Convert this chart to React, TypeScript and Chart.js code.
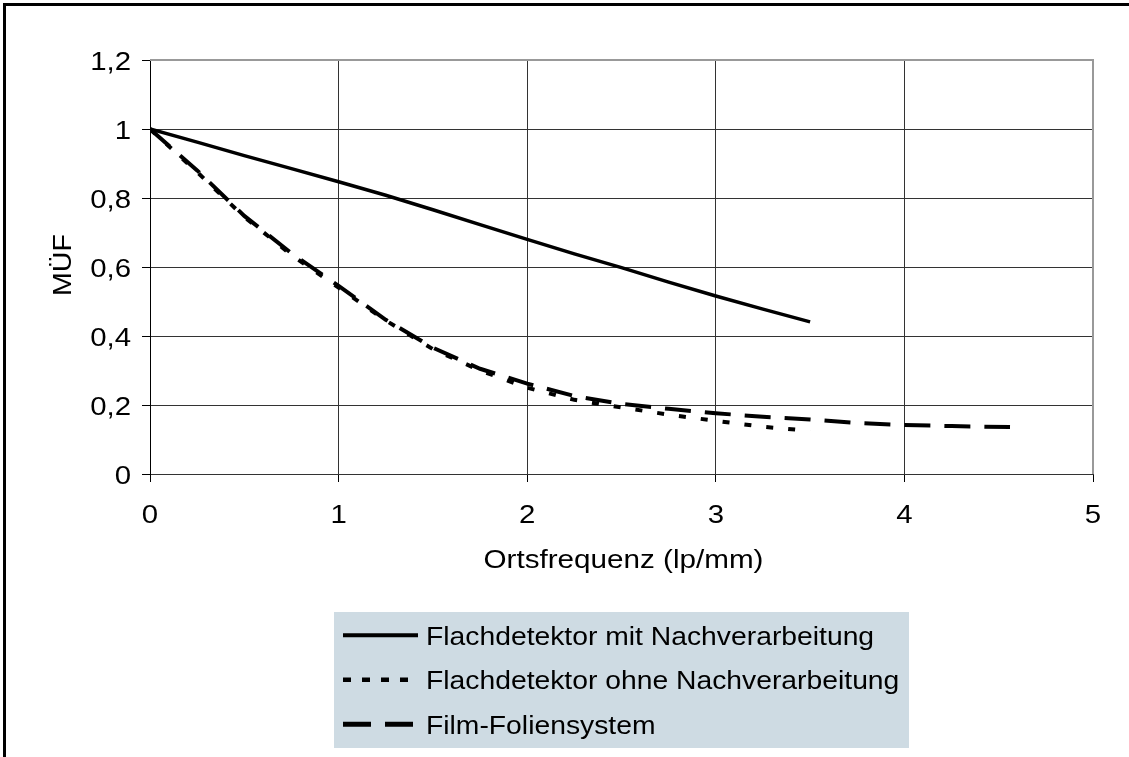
import React, { useEffect, useRef } from "react";
import { Chart, registerables } from "chart.js";

Chart.register(...registerables);

const freqMit = [0, 0.25, 0.5, 0.75, 1, 1.25, 1.5, 1.75, 2, 2.25, 2.5, 2.75, 3, 3.25, 3.5];
const mtfMit = [1, 0.962, 0.923, 0.885, 0.847, 0.808, 0.766, 0.723, 0.68, 0.638, 0.598, 0.556, 0.516, 0.478, 0.441];

const freqOhne = [0, 0.25, 0.5, 0.75, 1, 1.25, 1.5, 1.75, 2, 2.25, 2.5, 2.75, 3, 3.25, 3.5];
const mtfOhne = [1, 0.875, 0.745, 0.635, 0.54, 0.445, 0.362, 0.3, 0.25, 0.215, 0.193, 0.172, 0.154, 0.137, 0.125];

const freqFilm = [0, 0.25, 0.5, 0.75, 1, 1.25, 1.5, 1.75, 2, 2.25, 2.5, 2.75, 3, 3.25, 3.5, 3.75, 4, 4.25, 4.56];
const mtfFilm = [1, 0.88, 0.748, 0.64, 0.545, 0.447, 0.366, 0.305, 0.262, 0.226, 0.203, 0.189, 0.176, 0.166, 0.158, 0.148, 0.142, 0.139, 0.136];

const seriesLabels = [
  "Flachdetektor mit Nachverarbeitung",
  "Flachdetektor ohne Nachverarbeitung",
  "Film-Foliensystem",
];

const xTitle = "Ortsfrequenz (lp/mm)";
const yTitle = "MÜF";

const FONT = '26px "Liberation Sans", Arial, sans-serif';

const fmt = (v: number) => {
  const r = Math.round(v * 10) / 10;
  return String(r).replace(".", ",");
};

// draws text stretched horizontally by sx, anchored by align
function drawText(
  ctx: CanvasRenderingContext2D,
  text: string,
  x: number,
  y: number,
  align: "left" | "right" | "center",
  sx: number
) {
  ctx.save();
  ctx.translate(x, y);
  ctx.scale(sx, 1);
  ctx.textAlign = align;
  ctx.fillText(text, 0, 0);
  ctx.restore();
}

const customPlugin = {
  id: "customDraw",
  afterDraw(chart: any) {
    const ctx = chart.ctx as CanvasRenderingContext2D;
    const area = chart.chartArea;
    const xs = chart.scales.x;
    const ys = chart.scales.y;
    ctx.save();

    // plot area border (top/right) gray
    ctx.strokeStyle = "#999999";
    ctx.lineWidth = 2;
    ctx.beginPath();
    ctx.moveTo(area.left, area.top);
    ctx.lineTo(area.right, area.top);
    ctx.lineTo(area.right, area.bottom);
    ctx.stroke();

    // tick labels
    ctx.fillStyle = "#000";
    ctx.font = FONT;
    ctx.textBaseline = "alphabetic";
    ys.ticks.forEach((t: any) => {
      const py = ys.getPixelForValue(t.value);
      drawText(ctx, fmt(t.value), 131, py + 9.5, "right", 1.13);
    });
    xs.ticks.forEach((t: any) => {
      const px = xs.getPixelForValue(t.value);
      drawText(ctx, fmt(t.value), px, 523, "center", 1.13);
    });

    // axis titles
    drawText(ctx, xTitle, (area.left + area.right) / 2 + 2, 568, "center", 1.14);
    ctx.save();
    ctx.translate(71, 265);
    ctx.rotate(-Math.PI / 2);
    drawText(ctx, yTitle, 0, 0, "center", 1.1);
    ctx.restore();

    // legend
    const lx = 334, ly = 612, lw = 575, lh = 136;
    ctx.fillStyle = "#CEDBE3";
    ctx.fillRect(lx, ly, lw, lh);
    const rows = [635.3, 679.8, 724.3];
    chart.data.datasets.forEach((ds: any, i: number) => {
      const cy = rows[i];
      ctx.save();
      ctx.beginPath();
      ctx.rect(342, cy - 10, 77, 20);
      ctx.clip();
      ctx.strokeStyle = "#000";
      ctx.lineWidth = ds.legendWidth;
      ctx.lineCap = "butt";
      ctx.setLineDash(ds.legendDash);
      ctx.beginPath();
      ctx.moveTo(343, cy);
      ctx.lineTo(418, cy);
      ctx.stroke();
      ctx.restore();
      ctx.fillStyle = "#000";
      ctx.font = FONT;
      drawText(ctx, ds.label, 426, cy + 9.5, "left", 1.088);
    });

    // outer border (cropped on right and bottom)
    ctx.strokeStyle = "#000";
    ctx.lineWidth = 3;
    ctx.setLineDash([]);
    ctx.beginPath();
    ctx.moveTo(4.5, 800);
    ctx.lineTo(4.5, 4.5);
    ctx.lineTo(1200, 4.5);
    ctx.stroke();

    ctx.restore();
  },
};

export default function App() {
  const ref = useRef<HTMLCanvasElement | null>(null);
  useEffect(() => {
    if (!ref.current) return;
    const toXY = (xs: number[], ys: number[]) => xs.map((x, i) => ({ x, y: ys[i] }));
    const chart = new Chart(ref.current, {
      type: "line",
      data: {
        datasets: [
          {
            label: seriesLabels[0],
            data: toXY(freqMit, mtfMit),
            borderColor: "#000",
            borderWidth: 3.5,
            pointRadius: 0,
            tension: 0,
            legendDash: [],
            legendWidth: 4,
          } as any,
          {
            label: seriesLabels[1],
            data: toXY(freqOhne, mtfOhne),
            borderColor: "#000",
            borderWidth: 4,
            borderDash: [7, 15],
            pointRadius: 0,
            tension: 0,
            legendDash: [8, 11],
            legendWidth: 4.5,
          } as any,
          {
            label: seriesLabels[2],
            data: toXY(freqFilm, mtfFilm),
            borderColor: "#000",
            borderWidth: 4,
            borderDash: [26, 14],
            pointRadius: 0,
            tension: 0,
            legendDash: [28, 14],
            legendWidth: 5,
          } as any,
        ],
      },
      options: {
        animation: false,
        responsive: false,
        maintainAspectRatio: false,
        layout: { padding: { left: 142, top: 60, right: 36, bottom: 275 } },
        plugins: {
          legend: { display: false },
          tooltip: { enabled: false },
          title: { display: false },
        },
        scales: {
          x: {
            type: "linear",
            min: 0,
            max: 5,
            ticks: { display: false, stepSize: 1 },
            grid: {
              color: "#333333",
              lineWidth: 1,
              drawTicks: true,
              tickLength: 8,
              tickColor: "#000",
            },
            border: { display: true, color: "#333333", width: 1 },
          },
          y: {
            type: "linear",
            min: 0,
            max: 1.2,
            ticks: { display: false, stepSize: 0.2 },
            grid: {
              color: "#333333",
              lineWidth: 1,
              drawTicks: true,
              tickLength: 8,
              tickColor: "#000",
            },
            border: { display: true, color: "#000", width: 1 },
          },
        },
      },
      plugins: [customPlugin],
    });
    return () => chart.destroy();
  }, []);
  return (
    <div style={{ position: "fixed", left: 0, top: 0, width: 1129, height: 757, background: "#fff" }}>
      <canvas ref={ref} width={1129} height={757} style={{ display: "block", width: 1129, height: 757 }} />
    </div>
  );
}
